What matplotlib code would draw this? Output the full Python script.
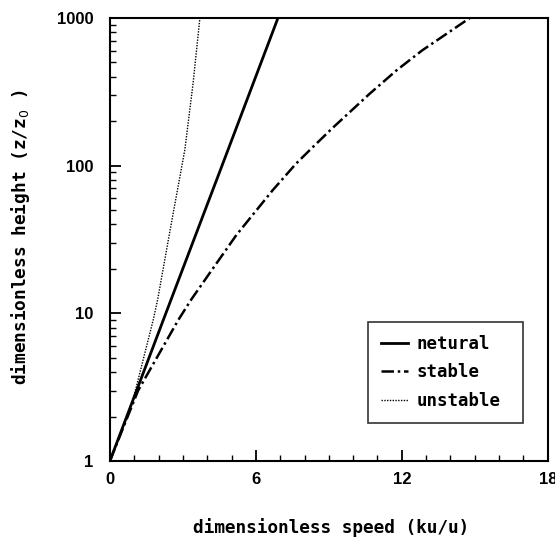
import matplotlib
matplotlib.use("Agg")
import matplotlib.pyplot as plt
from matplotlib.ticker import FixedLocator, NullFormatter

# Data (height z/z0, dimensionless speed ku/u)
neutral_z = [1, 10, 100, 1000]
neutral_x = [0.0, 2.30, 4.61, 6.91]

stable_z = [1, 3.0, 9.0, 12.3, 18.7, 33.9, 68.4, 103, 127.6, 179, 309, 444, 605, 1000]
stable_x = [0.0, 1.16, 2.81, 3.33, 4.1, 5.2, 6.7, 7.65, 8.22, 9.14, 10.7, 11.8, 12.85, 14.8]

unstable_z = [1, 2.59, 9, 12.3, 34, 128, 361, 1000]
unstable_x = [0.0, 0.95, 1.78, 1.96, 2.44, 3.08, 3.42, 3.7]

x_ticks = [0, 6, 12, 18]
y_ticks = [1, 10, 100, 1000]
y_tick_labels = ["1", "10", "100", "1000"]

mono = "DejaVu Sans Mono"
num = "Liberation Sans"

fig = plt.figure(figsize=(5.55, 5.43), dpi=100)
ax = fig.add_axes([0.198, 0.151, 0.789, 0.816])

ax.plot(neutral_x, neutral_z, color="black", lw=2.0, ls="-", label="netural")
ax.plot(stable_x, stable_z, color="black", lw=1.8, ls=(0, (5, 1.5, 1, 1.5)), label="stable")
ax.plot(unstable_x, unstable_z, color="black", lw=1.0, ls=(0, (1, 1)), label="unstable")

ax.set_yscale("log")
ax.set_xlim(0, 18)
ax.set_ylim(1, 1000)

ax.set_xticks(x_ticks)
ax.set_xticklabels([str(t) for t in x_ticks], fontfamily=num, fontweight="bold", fontsize=12)
ax.xaxis.set_minor_locator(FixedLocator(list(range(0, 19))))
ax.set_yticks(y_ticks)
ax.set_yticklabels(y_tick_labels, fontfamily=num, fontweight="bold", fontsize=12)
minors = [m * 10 ** d for d in range(3) for m in range(2, 10)]
ax.yaxis.set_minor_locator(FixedLocator(minors))
ax.yaxis.set_minor_formatter(NullFormatter())

ax.tick_params(axis="both", which="major", direction="in", length=8, width=1.3)
ax.tick_params(axis="x", which="major", pad=8)
ax.tick_params(axis="y", which="major", pad=12)
ax.tick_params(axis="both", which="minor", direction="in", length=4, width=1.0)
ax.tick_params(top=False, right=False, which="both")

for s in ax.spines.values():
    s.set_linewidth(1.5)

fig.text(331 / 555, 1 - 528 / 543, "dimensionless speed (ku/u)", ha="center", va="center",
         fontfamily=mono, fontweight="bold", fontsize=12.8)
fig.text(21 / 555, 1 - 237 / 543, "dimensionless height (z/z$_0$ )", ha="center", va="center",
         rotation=90, fontfamily=mono, fontweight="bold", fontsize=12.8)

leg = ax.legend(loc="lower left", bbox_to_anchor=(0.589, 0.086, 0.354, 0.232), mode="expand",
                borderaxespad=0.0, frameon=True, fancybox=False, edgecolor="black",
                handlelength=1.55, handletextpad=0.5, borderpad=0.75, labelspacing=0.6,
                prop={"family": mono, "weight": "bold", "size": 12.5})
leg.get_frame().set_linewidth(1.2)

fig.savefig("out.png", dpi=100, facecolor="white")
